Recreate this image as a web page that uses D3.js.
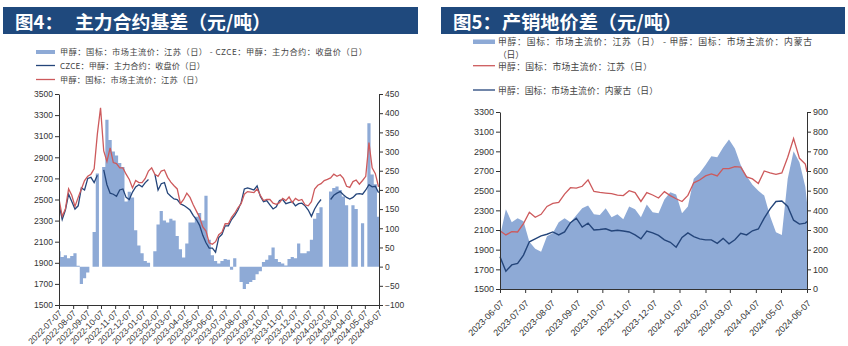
<!DOCTYPE html>
<html>
<head>
<meta charset="utf-8">
<script src="https://cdn.jsdelivr.net/npm/d3@7"></script>
<style>
  body { margin: 0; background: #fff; }
  svg text { font-family: "Liberation Sans", Arial, sans-serif; fill: #333; }
  svg text.cjk { font-family: "Noto Sans CJK SC", sans-serif; }
</style>
</head>
<body>
<svg id="chart" width="848" height="346"></svg>
<script>
// ---------- 图4 主力合约基差: weekly observations ----------
const basisDates = [
  "2022-07-07","2022-07-14","2022-07-21","2022-07-28","2022-08-04","2022-08-11","2022-08-18","2022-08-25",
  "2022-09-01","2022-09-08","2022-09-15","2022-09-22","2022-09-29","2022-10-06","2022-10-13","2022-10-20",
  "2022-10-27","2022-11-03","2022-11-10","2022-11-17","2022-11-24","2022-12-01","2022-12-08","2022-12-15",
  "2022-12-22","2022-12-29","2023-01-05","2023-01-12","2023-01-19","2023-01-26","2023-02-02","2023-02-09",
  "2023-02-16","2023-02-23","2023-03-02","2023-03-09","2023-03-16","2023-03-23","2023-03-30","2023-04-06",
  "2023-04-13","2023-04-20","2023-04-27","2023-05-04","2023-05-11","2023-05-18","2023-05-25","2023-06-01",
  "2023-06-08","2023-06-15","2023-06-22","2023-06-29","2023-07-06","2023-07-13","2023-07-20","2023-07-27",
  "2023-08-03","2023-08-10","2023-08-17","2023-08-24","2023-08-31","2023-09-07","2023-09-14","2023-09-21",
  "2023-09-28","2023-10-05","2023-10-12","2023-10-19","2023-10-26","2023-11-02","2023-11-09","2023-11-16",
  "2023-11-23","2023-11-30","2023-12-07","2023-12-14","2023-12-21","2023-12-28","2024-01-04","2024-01-11",
  "2024-01-18","2024-01-25","2024-02-01","2024-02-08","2024-02-15","2024-02-22","2024-02-29","2024-03-07",
  "2024-03-14","2024-03-21","2024-03-28","2024-04-04","2024-04-11","2024-04-18","2024-04-25","2024-05-02",
  "2024-05-09","2024-05-16","2024-05-23","2024-05-30","2024-06-06"
];
// 甲醇：国标：市场主流价：江苏（日）
const jiangsuSpot4 = [
  2505,2340,2410,2600,2540,2435,2520,2600,2680,2720,2740,2790,3120,3370,2960,2860,
  2990,2850,2840,2800,2800,2740,2690,2610,2680,2660,2660,2700,2770,2800,2740,2720,
  2770,2780,2710,2665,2630,2600,2460,2500,2560,2520,2450,2390,2330,2240,2200,2090,
  2075,2100,2167,2190,2270,2270,2330,2370,2420,2460,2550,2575,2570,2565,2600,2540,
  2490,2500,2500,2465,2455,2470,2510,2490,2525,2470,2510,2490,2500,2450,2440,2480,
  2600,2635,2650,2680,2690,2705,2740,2720,2735,2700,2625,2615,2670,2685,2645,2680,
  2720,3040,2800,2745,2620
];
// CZCE：甲醇：主力合约：收盘价（日）
const czceClose = [
  2460,2310,2400,2550,2480,2410,2440,2610,2590,2700,2710,2660,2730,null,2780,2640,
  2560,2550,2530,2590,2600,2520,2500,2570,2620,2640,2620,2660,2690,null,2740,2590,
  2650,2660,2560,2530,2505,2500,2460,2445,2425,2400,2350,2310,2255,2160,2090,2040,
  2040,2000,2140,2170,2250,2250,2310,2350,2400,2470,2600,2610,2600,2590,2630,2530,
  2480,2490,2450,2410,2430,2490,2500,2460,2470,2480,2440,2460,2465,2440,2400,2340,
  2410,2460,2500,null,null,2500,2540,2560,2575,2545,2520,2505,2520,2550,2555,2550,
  2590,2640,2620,2625,2565
];
// 江苏 - CZCE 主力 基差
const basisValues = [
  40,25,30,22,28,35,2,-45,-30,-15,0,90,243,null,260,383,
  330,300,290,270,260,170,195,180,95,55,35,15,10,null,40,110,
  145,120,115,125,120,80,45,24,60,115,115,130,140,120,185,70,
  30,15,8,15,20,18,-8,22,0,-40,-58,-45,-40,-35,-20,-12,
  12,18,30,50,20,12,8,3,20,25,22,60,35,35,40,70,
  125,140,155,null,null,196,205,209,200,183,160,null,160,150,null,113,
  null,374,240,215,130
];
const basisTicks = [
  "2022-07-07","2022-08-07","2022-09-07","2022-10-07","2022-11-07","2022-12-07","2023-01-07","2023-02-07",
  "2023-03-07","2023-04-07","2023-05-07","2023-06-07","2023-07-07","2023-08-07","2023-09-07","2023-10-07",
  "2023-11-07","2023-12-07","2024-01-07","2024-02-07","2024-03-07","2024-04-07","2024-05-07","2024-06-07"
];
const priceTicks4 = [1500,1700,1900,2100,2300,2500,2700,2900,3100,3300,3500];
const basisAxisTicks = [-100,-50,0,50,100,150,200,250,300,350,400,450];

// ---------- 图5 产销地价差: weekly observations ----------
const spreadDates = [
  "2023-06-07","2023-06-14","2023-06-21","2023-06-28","2023-07-05","2023-07-12","2023-07-19","2023-07-26",
  "2023-08-02","2023-08-09","2023-08-16","2023-08-23","2023-08-30","2023-09-06","2023-09-13","2023-09-20",
  "2023-09-27","2023-10-04","2023-10-11","2023-10-18","2023-10-25","2023-11-01","2023-11-08","2023-11-15",
  "2023-11-22","2023-11-29","2023-12-06","2023-12-13","2023-12-20","2023-12-27","2024-01-03","2024-01-10",
  "2024-01-17","2024-01-24","2024-01-31","2024-02-07","2024-02-14","2024-02-21","2024-02-28","2024-03-06",
  "2024-03-13","2024-03-20","2024-03-27","2024-04-03","2024-04-10","2024-04-17","2024-04-24","2024-05-01",
  "2024-05-08","2024-05-15","2024-05-22","2024-05-29","2024-06-05","2024-06-07"
];
// 甲醇：国标：市场主流价：江苏（日）
const jiangsuSpot5 = [
  2093,2050,2083,2080,2165,2280,2230,2260,2340,2370,2380,2465,2530,2525,2545,2610,
  2492,2482,2476,2470,2455,2450,2500,2480,2390,2480,2456,2425,2490,2450,2418,2390,
  2452,2580,2608,2650,2670,2650,2725,2725,2744,2740,2640,2620,2574,2700,2680,2665,
  2680,2840,3030,2829,2770,2690
];
// 甲醇：国标：市场主流价：内蒙古（日）
const innerMongoliaSpot = [
  1828,1680,1745,1760,1845,1980,2010,2040,2057,2080,2050,2080,2175,2220,2130,2170,
  2100,2105,2112,2090,2098,2090,2080,2050,2010,2090,2070,2045,2000,1975,1925,2025,
  2070,2032,2010,2000,2000,1965,2015,1960,2000,2066,2050,2092,2110,2220,2315,2390,
  2395,2340,2200,2160,2170,2185
];
// 江苏 - 内蒙古 价差
const spreadValues = [
  268,405,340,360,345,240,205,190,268,285,340,360,340,375,410,425,
  380,376,410,365,380,355,420,405,365,430,390,385,455,492,480,385,
  420,560,590,630,675,670,720,760,715,630,575,530,500,475,370,288,
  275,560,700,645,520,440
];
const spreadTicks = [
  "2023-06-07","2023-07-07","2023-08-07","2023-09-07","2023-10-07","2023-11-07","2023-12-07",
  "2024-01-07","2024-02-07","2024-03-07","2024-04-07","2024-05-07","2024-06-07"
];
const priceTicks5 = [1500,1700,1900,2100,2300,2500,2700,2900,3100,3300];
const spreadAxisTicks = [0,100,200,300,400,500,600,700,800,900];

// ---------- shared styling ----------
const parse = d3.timeParse("%Y-%m-%d");
const fmtDate = d3.timeFormat("%Y-%m-%d");
const C = {
  header: "#1f497d",
  fill: "#8eaad6",
  red: "#cd5a5c",
  navy: "#24457a",
  axis: "#333"
};

const svg = d3.select("#chart");

function header(x, w, label, title, titleX, titleLen) {
  svg.append("rect").attr("x", x).attr("y", 7).attr("width", w).attr("height", 27).attr("fill", C.header);
  svg.append("text").attr("class", "cjk").attr("x", x + 12).attr("y", 29)
    .attr("font-size", 18.5).attr("font-weight", 700).style("fill", "#fff").text(label);
  svg.append("text").attr("class", "cjk").attr("x", titleX).attr("y", 29)
    .attr("font-size", 18.5).attr("font-weight", 700).style("fill", "#fff")
    .attr("textLength", titleLen).attr("lengthAdjust", "spacingAndGlyphs").text(title);
}

function legendText(x, y, txt, len, size) {
  svg.append("text").attr("class", "cjk").attr("x", x).attr("y", y)
    .attr("font-size", size).style("fill", "#444")
    .attr("textLength", len).attr("lengthAdjust", "spacing").text(txt);
}

function styleAxis(g, fs) {
  g.select(".domain").attr("stroke", C.axis);
  g.selectAll(".tick line").attr("stroke", C.axis);
  g.selectAll("text").attr("font-size", fs).style("fill", "#333")
    .attr("font-family", "Liberation Sans, Arial, sans-serif");
}

function dateAxis(g, scale, ticks, y, fs, dx, dy) {
  const ax = d3.axisBottom(scale).tickValues(ticks.map(parse)).tickFormat(fmtDate)
    .tickSize(4).tickSizeOuter(0);
  const sel = svg.append("g").attr("transform", `translate(0,${y})`).call(ax);
  styleAxis(sel, fs);
  sel.selectAll("text").attr("x", 0).attr("y", 0).attr("dy", null)
    .attr("text-anchor", "end")
    .attr("transform", `translate(${dx},${dy}) rotate(-45)`);
}

// ================= 图4 =================
header(3, 415, "图4：", "主力合约基差（元/吨）", 75, 196);

svg.append("rect").attr("x", 36).attr("y", 50).attr("width", 19).attr("height", 4).attr("fill", C.fill);
legendText(60, 55, "甲醇：国标：市场主流价：江苏（日） - CZCE：甲醇：主力合约：收盘价（日）", 307, 8.2);
svg.append("line").attr("x1", 36).attr("x2", 55).attr("y1", 65.5).attr("y2", 65.5).attr("stroke", C.navy).attr("stroke-width", 1.3);
legendText(60, 69, "CZCE：甲醇：主力合约：收盘价（日）", 145, 8.2);
svg.append("line").attr("x1", 36).attr("x2", 55).attr("y1", 79.5).attr("y2", 79.5).attr("stroke", C.red).attr("stroke-width", 1.3);
legendText(60, 83, "甲醇：国标：市场主流价：江苏（日）", 143, 8.2);

const p4 = { x0: 59, x1: 379, yTop: 94, yBot: 305 };
const d4 = basisDates.map(parse);
const x4 = d3.scaleTime().domain([parse(basisTicks[0]), parse(basisTicks[basisTicks.length - 1])]).range([p4.x0, p4.x1]);
const yL4 = d3.scaleLinear().domain([1500, 3500]).range([p4.yBot, p4.yTop]);
const yR4 = d3.scaleLinear().domain([-100, 450]).range([p4.yBot, p4.yTop]);

svg.append("clipPath").attr("id", "clip4").append("rect")
  .attr("x", p4.x0).attr("y", p4.yTop - 10).attr("width", p4.x1 - p4.x0).attr("height", p4.yBot - p4.yTop + 10);
const g4 = svg.append("g").attr("clip-path", "url(#clip4)");

// basis columns: each weekly value spans its own week, drawn as one stepped area
const half4 = (x4(d4[1]) - x4(d4[0])) / 2;
const basisSteps = [];
basisValues.forEach((v, i) => {
  const cx = x4(d4[i]);
  basisSteps.push({ x: cx - half4, v }, { x: cx + half4, v });
});
g4.append("path").datum(basisSteps)
  .attr("d", d3.area().defined(p => p.v !== null).x(p => p.x).y0(yR4(0)).y1(p => yR4(p.v)))
  .attr("fill", C.fill);

const line4 = (ys) => d3.line().defined(o => o.v !== null).x(o => x4(o.d)).y(o => ys(o.v));
g4.append("path").datum(czceClose.map((v, i) => ({ d: d4[i], v })))
  .attr("d", line4(yL4)).attr("fill", "none").attr("stroke", C.navy).attr("stroke-width", 1.3);
g4.append("path").datum(jiangsuSpot4.map((v, i) => ({ d: d4[i], v })))
  .attr("d", line4(yL4)).attr("fill", "none").attr("stroke", C.red).attr("stroke-width", 1.3);

const axL4 = svg.append("g").attr("transform", `translate(${p4.x0},0)`)
  .call(d3.axisLeft(yL4).tickValues(priceTicks4).tickSize(4).tickSizeOuter(0).tickPadding(2).tickFormat(d3.format("d")));
styleAxis(axL4, 8.5);
const axR4 = svg.append("g").attr("transform", `translate(${p4.x1},0)`)
  .call(d3.axisRight(yR4).tickValues(basisAxisTicks).tickSize(4).tickSizeOuter(0).tickPadding(2));
styleAxis(axR4, 8.5);
dateAxis(svg, x4, basisTicks, p4.yBot, 8.5, 3, 9);

// ================= 图5 =================
header(441, 404, "图5：", "产销地价差（元/吨）", 502, 180);

svg.append("rect").attr("x", 473).attr("y", 39.5).attr("width", 22).attr("height", 4.5).attr("fill", C.fill);
legendText(498, 44.5, "甲醇：国标：市场主流价：江苏（日） - 甲醇：国标：市场主流价：内蒙古", 314, 8.8);
legendText(498, 57.5, "（日）", 26, 8.8);
svg.append("line").attr("x1", 473).attr("x2", 495).attr("y1", 65.7).attr("y2", 65.7).attr("stroke", C.red).attr("stroke-width", 1.3);
legendText(498, 69.5, "甲醇：国标：市场主流价：江苏（日）", 154, 8.8);
svg.append("line").attr("x1", 473).attr("x2", 495).attr("y1", 90).attr("y2", 90).attr("stroke", C.navy).attr("stroke-width", 1.3);
legendText(498, 93.5, "甲醇：国标：市场主流价：内蒙古（日）", 160, 8.8);

const p5 = { x0: 500, x1: 807, yTop: 112, yBot: 289 };
const d5 = spreadDates.map(parse);
const x5 = d3.scaleTime().domain([parse(spreadTicks[0]), parse(spreadTicks[spreadTicks.length - 1])]).range([p5.x0, p5.x1]);
const yL5 = d3.scaleLinear().domain([1500, 3300]).range([p5.yBot, p5.yTop]);
const yR5 = d3.scaleLinear().domain([0, 900]).range([p5.yBot, p5.yTop]);

const g5 = svg.append("g");
g5.append("path").datum(spreadValues.map((v, i) => ({ d: d5[i], v })))
  .attr("d", d3.area().x(o => x5(o.d)).y0(yR5(0)).y1(o => yR5(o.v)))
  .attr("fill", C.fill);
const line5 = d3.line().x(o => x5(o.d)).y(o => yL5(o.v));
g5.append("path").datum(jiangsuSpot5.map((v, i) => ({ d: d5[i], v })))
  .attr("d", line5).attr("fill", "none").attr("stroke", C.red).attr("stroke-width", 1.3);
g5.append("path").datum(innerMongoliaSpot.map((v, i) => ({ d: d5[i], v })))
  .attr("d", line5).attr("fill", "none").attr("stroke", C.navy).attr("stroke-width", 1.4);

const axL5 = svg.append("g").attr("transform", `translate(${p5.x0},0)`)
  .call(d3.axisLeft(yL5).tickValues(priceTicks5).tickSize(4).tickSizeOuter(0).tickPadding(2).tickFormat(d3.format("d")));
styleAxis(axL5, 9);
const axR5 = svg.append("g").attr("transform", `translate(${p5.x1},0)`)
  .call(d3.axisRight(yR5).tickValues(spreadAxisTicks).tickSize(4).tickSizeOuter(0).tickPadding(2));
styleAxis(axR5, 9);
dateAxis(svg, x5, spreadTicks, p5.yBot, 9, 4, 15);
</script>
</body>
</html>
